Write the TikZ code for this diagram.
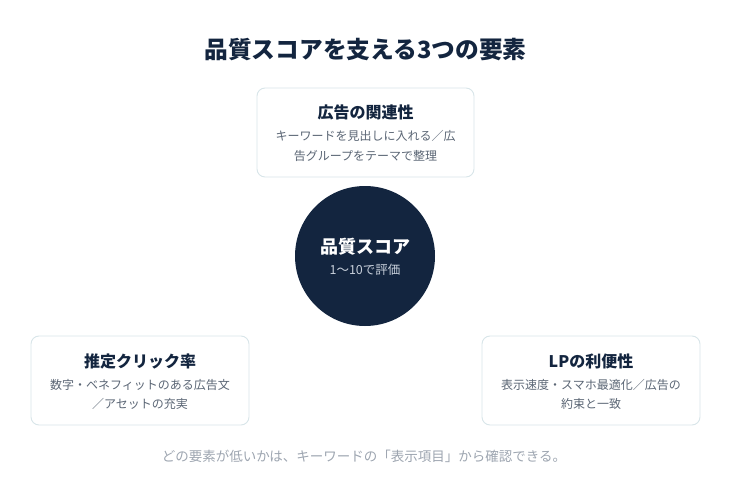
\documentclass[tikz,border=0pt]{standalone}
\usepackage{fontspec}
\setmainfont{Noto Sans CJK JP}
\newfontfamily\jp{Noto Sans CJK JP}
\definecolor{navy}{HTML}{13253F}
\definecolor{desc}{HTML}{5B6675}
\definecolor{foot}{HTML}{9DA5B0}
\definecolor{cardline}{HTML}{D8E5E9}
\definecolor{subc}{HTML}{C9D1DC}
\tikzset{
  card/.style={draw=cardline, line width=0.9pt, fill=white, rounded corners=8pt, inner sep=0pt},
  maintitle/.style={anchor=base, inner sep=0pt, text=navy, font=\jp\bfseries\fontsize{23.7}{28}\selectfont},
  cardtitle/.style={anchor=base, inner sep=0pt, text=navy, font=\jp\bfseries\fontsize{16}{20}\selectfont},
  cardtext/.style={anchor=base, inner sep=0pt, text=desc, font=\jp\fontsize{12}{16}\selectfont},
  hub/.style={circle, fill=navy, draw=none, minimum size=140pt, inner sep=0pt},
  hubtitle/.style={anchor=base, inner sep=0pt, text=white, font=\jp\bfseries\fontsize{18}{22}\selectfont},
  hubtext/.style={anchor=base, inner sep=0pt, text=subc, font=\jp\fontsize{12.5}{16}\selectfont},
  foottext/.style={anchor=base, inner sep=0pt, text=foot, font=\jp\fontsize{13.5}{16}\selectfont}
}
\begin{document}
\begin{tikzpicture}[x=1pt,y=-1pt]
\useasboundingbox (0,0) rectangle (731,500);
\node[maintitle] (title) at (365.5,59) {品質スコアを支える3つの要素};
% top card
\node[card, minimum width=217pt, minimum height=89pt] (rel) at (365.5,132.5) {};
\node[cardtitle] (relT) at (365.5,119) {広告の関連性};
\node[cardtext] (relA) at (365.5,140.5) {キーワードを見出しに入れる／広};
\node[cardtext] (relB) at (365.5,160.5) {告グループをテーマで整理};
% hub
\node[hub] (qs) at (365,256) {};
\node[hubtitle] (qsT) at (365,253) {品質スコア};
\node[hubtext] (qsS) at (365,274.5) {1〜10で評価};
% left card
\node[card, minimum width=218pt, minimum height=89pt] (ctr) at (140,380.5) {};
\node[cardtitle] (ctrT) at (140,367) {推定クリック率};
\node[cardtext] (ctrA) at (140,389.5) {数字・ベネフィットのある広告文};
\node[cardtext] (ctrB) at (140,408.5) {／アセットの充実};
% right card
\node[card, minimum width=218pt, minimum height=89pt] (lp) at (591,380.5) {};
\node[cardtitle] (lpT) at (591,367) {LPの利便性};
\node[cardtext] (lpA) at (591,389.5) {表示速度・スマホ最適化／広告の};
\node[cardtext] (lpB) at (591,408.5) {約束と一致};
% footer
\node[foottext] (note) at (364,461) {どの要素が低いかは、キーワードの「表示項目」から確認できる。};
\end{tikzpicture}
\end{document}
